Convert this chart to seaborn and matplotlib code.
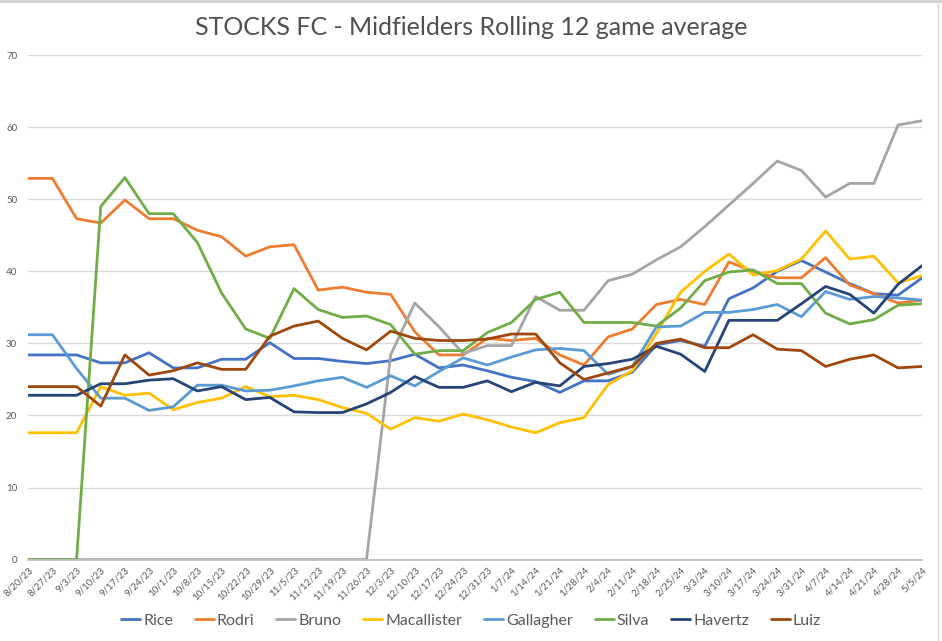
import numpy as np
import pandas as pd
import seaborn as sns
import matplotlib

matplotlib.use("Agg")
import matplotlib.pyplot as plt

# week labels on the x axis
weeks = [
    "8/20/23", "8/27/23", "9/3/23", "9/10/23", "9/17/23", "9/24/23", "10/1/23",
    "10/8/23", "10/15/23", "10/22/23", "10/29/23", "11/5/23", "11/12/23",
    "11/19/23", "11/26/23", "12/3/23", "12/10/23", "12/17/23", "12/24/23",
    "12/31/23", "1/7/24", "1/14/24", "1/21/24", "1/28/24", "2/4/24", "2/11/24",
    "2/18/24", "2/25/24", "3/3/24", "3/10/24", "3/17/24", "3/24/24", "3/31/24",
    "4/7/24", "4/14/24", "4/21/24", "4/28/24", "5/5/24",
]

rice = [28.4, 28.4, 28.4, 27.3, 27.3, 28.7, 26.6, 26.6, 27.8, 27.8, 30.1, 27.9, 27.9,
        27.5, 27.2, 27.6, 28.5, 26.6, 27.0, 26.2, 25.3, 24.7, 23.2, 24.8, 24.8, 26.0,
        29.8, 30.4, 29.6, 36.2, 37.7, 40.0, 41.5, 39.9, 38.3, 36.9, 36.7, 39.1]
rodri = [52.9, 52.9, 47.3, 46.7, 49.9, 47.3, 47.3, 45.7, 44.8, 42.1, 43.4, 43.7, 37.4,
         37.8, 37.1, 36.8, 31.6, 28.4, 28.4, 30.7, 30.4, 30.7, 28.4, 27.0, 30.9, 32.0,
         35.4, 36.1, 35.4, 41.3, 40.0, 39.1, 39.1, 41.9, 38.1, 36.9, 35.6, 36.0]
bruno = [0, 0, 0, 0, 0, 0, 0, 0, 0, 0, 0, 0, 0, 0, 0, 28.4, 35.6, 32.3, 28.6, 29.7,
         29.7, 36.5, 34.6, 34.6, 38.7, 39.6, 41.6, 43.4, 46.2, 49.2, 52.2, 55.3, 54.0,
         50.3, 52.2, 52.2, 60.3, 60.9]
macallister = [17.6, 17.6, 17.6, 24.0, 22.8, 23.1, 20.8, 21.8, 22.4, 24.0, 22.6, 22.8,
               22.2, 21.1, 20.3, 18.1, 19.7, 19.2, 20.2, 19.4, 18.4, 17.6, 19.0, 19.7,
               24.3, 26.2, 31.4, 37.1, 40.0, 42.4, 39.5, 40.1, 41.7, 45.6, 41.7, 42.1,
               38.4, 39.4]
gallagher = [31.2, 31.2, 26.5, 22.4, 22.4, 20.7, 21.2, 24.2, 24.2, 23.4, 23.5, 24.1,
             24.8, 25.3, 23.9, 25.5, 24.1, 26.1, 28.0, 27.0, 28.1, 29.1, 29.3, 29.0,
             25.7, 26.8, 32.3, 32.4, 34.3, 34.3, 34.7, 35.4, 33.7, 37.2, 36.1, 36.5,
             36.3, 36.0]
silva = [0, 0, 0, 49.0, 53.0, 48.0, 48.0, 44.0, 37.0, 32.0, 30.7, 37.6, 34.7, 33.6,
         33.8, 32.6, 28.5, 29.0, 29.0, 31.5, 32.9, 36.1, 37.1, 32.9, 32.9, 32.9, 32.4,
         34.9, 38.7, 39.9, 40.2, 38.3, 38.3, 34.2, 32.7, 33.3, 35.3, 35.5]
havertz = [22.8, 22.8, 22.8, 24.4, 24.4, 24.9, 25.1, 23.4, 24.0, 22.2, 22.5, 20.5,
           20.4, 20.4, 21.6, 23.2, 25.4, 23.9, 23.9, 24.8, 23.3, 24.6, 24.1, 26.8,
           27.2, 27.8, 29.6, 28.5, 26.1, 33.2, 33.2, 33.2, 35.5, 37.9, 36.8, 34.2,
           38.2, 40.8]
luiz = [24.0, 24.0, 24.0, 21.3, 28.4, 25.6, 26.2, 27.3, 26.4, 26.4, 31.0, 32.4, 33.1,
        30.7, 29.1, 31.7, 30.7, 30.4, 30.4, 30.6, 31.3, 31.3, 27.3, 25.0, 25.9, 26.8,
        30.0, 30.6, 29.4, 29.4, 31.2, 29.2, 29.0, 26.8, 27.8, 28.4, 26.6, 26.8]

players = ["Rice", "Rodri", "Bruno", "Macallister", "Gallagher", "Silva", "Havertz", "Luiz"]
series = [rice, rodri, bruno, macallister, gallagher, silva, havertz, luiz]
colors = ["#4472C4", "#ED7D31", "#A5A5A5", "#FFC000", "#5B9BD5", "#70AD47", "#264478", "#9E480E"]

frames = []
for name, values in zip(players, series):
    frames.append(pd.DataFrame({"week": np.arange(len(weeks)), "avg": values, "player": name}))
df = pd.concat(frames, ignore_index=True)

sns.set_theme(style="white")
plt.rcParams["font.family"] = ["Lato", "DejaVu Sans"]

fig = plt.figure(figsize=(9.42, 6.41), dpi=100)
ax = fig.add_axes([0.030, 0.127, 0.949, 0.787])

sns.lineplot(data=df, x="week", y="avg", hue="player", hue_order=players,
             palette=dict(zip(players, colors)), linewidth=2.0, ax=ax, legend=False)

ax.set_xlim(0, len(weeks) - 1)
ax.set_ylim(0, 70)
ax.set_yticks(range(0, 71, 10))
ax.tick_params(axis="y", labelsize=7, colors="#595959", length=0, pad=8)
ax.set_xticks(range(len(weeks)))
ax.set_xticklabels(weeks, rotation=45, ha="right", rotation_mode="anchor")
ax.tick_params(axis="x", labelsize=7, colors="#595959", length=0, pad=4)
ax.grid(axis="y", color="#D9D9D9", linewidth=1)
ax.set_axisbelow(True)
for side in ["top", "right", "left"]:
    ax.spines[side].set_visible(False)
ax.spines["bottom"].set_color("#BFBFBF")
ax.set_xlabel("")
ax.set_ylabel("")

fig.suptitle("STOCKS FC - Midfielders Rolling 12 game average", y=0.975,
             fontsize=18, color="#505050")

handles = [plt.Line2D([], [], color=c, linewidth=2) for c in colors]
fig.legend(handles, players, loc="center", bbox_to_anchor=(0.5, 0.032), ncol=8,
           frameon=False, fontsize=11.5, handlelength=1.2, handletextpad=0.2,
           columnspacing=1.35, labelcolor="#595959")

# thin chart frame seen at the top and right edges
fig.add_artist(plt.Line2D([0, 1], [0.998, 0.998], color="#D0D0D0", linewidth=2,
                          transform=fig.transFigure))
fig.add_artist(plt.Line2D([0.996, 0.996], [0, 1], color="#D9D9D9", linewidth=1,
                          transform=fig.transFigure))

fig.savefig("out.png", dpi=100)
